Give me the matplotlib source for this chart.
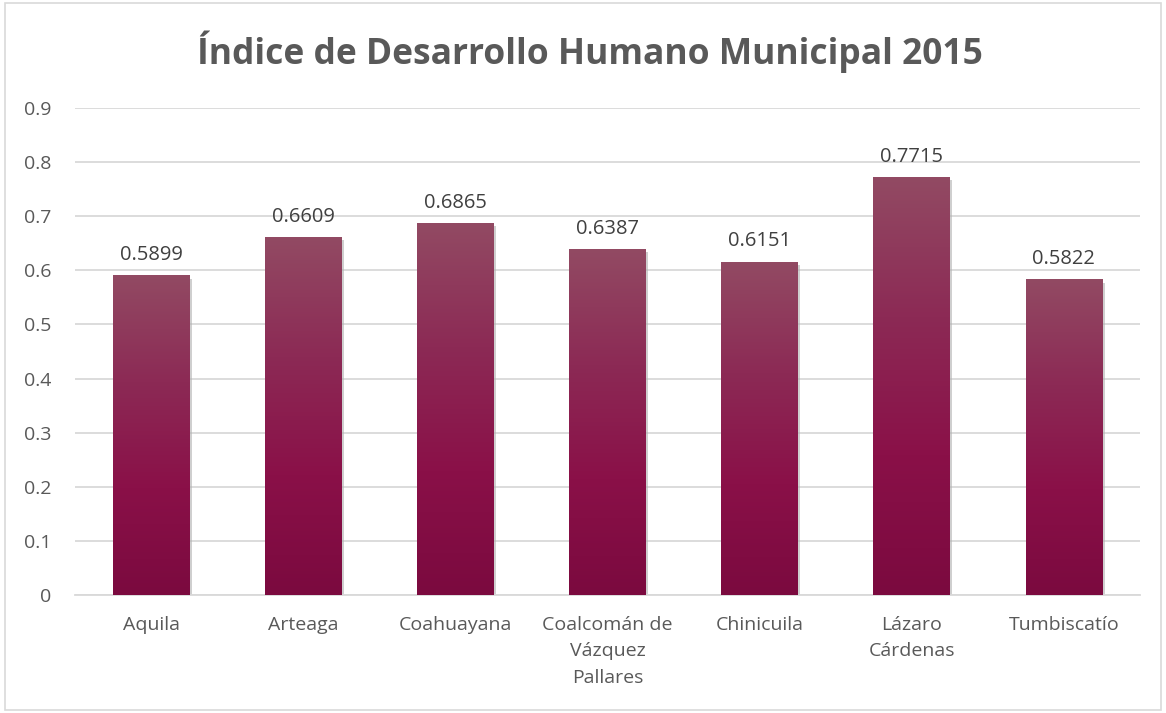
import numpy as np
import matplotlib.pyplot as plt
from matplotlib.colors import LinearSegmentedColormap
from matplotlib.patches import Rectangle

plt.rcParams['font.family'] = ['Open Sans', 'DejaVu Sans']

municipios = ['Aquila', 'Arteaga', 'Coahuayana', 'Coalcomán de\nVázquez\nPallares',
              'Chinicuila', 'Lázaro\nCárdenas', 'Tumbiscatío']
idh = [0.5899, 0.6609, 0.6865, 0.6387, 0.6151, 0.7715, 0.5822]
yticks = [0, 0.1, 0.2, 0.3, 0.4, 0.5, 0.6, 0.7, 0.8, 0.9]

gris = '#595959'
cmap = LinearSegmentedColormap.from_list('idh', ['#7b0a3f', '#8a1048', '#8c2a55', '#924a63'])

fig = plt.figure(figsize=(11.66, 7.13), dpi=100)
ax = fig.add_axes([0.0643, 0.1655, 0.9134, 0.683])

x = np.arange(len(municipios))
ancho = 0.505
grad = np.linspace(0, 1, 256).reshape(-1, 1)
for xi, v in zip(x, idh):
    # sombra suave
    ax.add_patch(Rectangle((xi - ancho / 2 + 0.015, -0.005), ancho, v, color='#b0b0b0',
                           alpha=0.6, lw=0, zorder=2))
    ax.imshow(grad, extent=[xi - ancho / 2, xi + ancho / 2, 0, v], origin='lower',
              cmap=cmap, aspect='auto', zorder=3)
    ax.text(xi, v + 0.02, '{:.4f}'.format(v), ha='center', va='bottom',
            fontsize=14.5, color='#404040')

ax.set_xlim(-0.5, len(municipios) - 0.5)
ax.set_ylim(0, 0.9)
ax.set_yticks(yticks)
ax.set_yticklabels(['0' if t == 0 else '{:.1f}'.format(t) for t in yticks])
ax.set_xticks(x)
ax.set_xticklabels(municipios, linespacing=1.6)
ax.tick_params(axis='both', length=0, labelsize=14, labelcolor=gris)
ax.tick_params(axis='x', pad=15)
ax.tick_params(axis='y', pad=17)
ax.grid(axis='y', color='#d9d9d9', lw=1.3)
ax.set_axisbelow(True)
for s in ['top', 'right', 'left']:
    ax.spines[s].set_visible(False)
ax.spines['bottom'].set_color('#d9d9d9')
ax.spines['bottom'].set_linewidth(1.3)

fig.text(0.506, 0.928, 'Índice de Desarrollo Humano Municipal 2015', ha='center',
         va='center', fontsize=25.5, fontweight='bold', color=gris)

fig.add_artist(Rectangle((0.004, 0.004), 0.992, 0.992, transform=fig.transFigure,
                         fill=False, edgecolor='#d9d9d9', lw=1.2))

fig.savefig('out.png', dpi=100)
